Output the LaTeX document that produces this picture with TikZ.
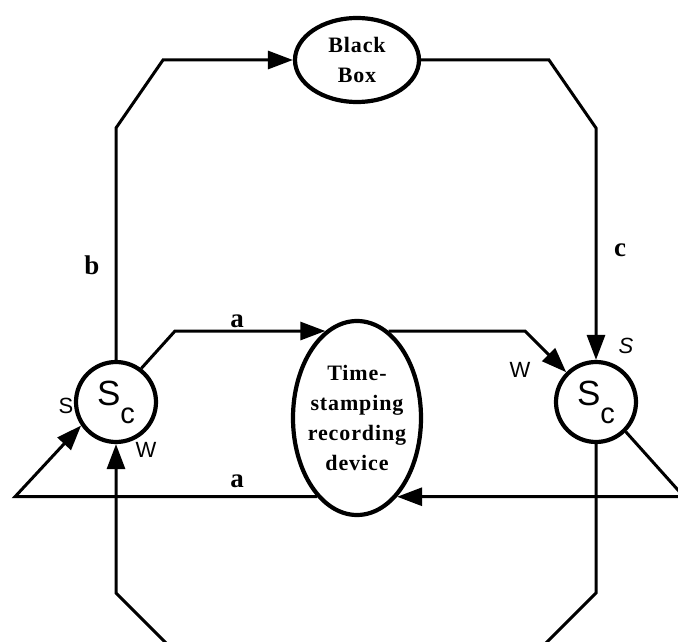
\documentclass[tikz,border=0pt]{standalone}
\usepackage{fontspec}
\setmainfont{Liberation Serif}
\setsansfont{Liberation Sans}
\usetikzlibrary{arrows.meta,shapes.geometric}

\newcommand{\swtext}{\sffamily\fontsize{35}{35}\selectfont S\raisebox{-18pt}{\fontsize{29}{29}\selectfont c}}

\begin{document}
\begin{tikzpicture}[
  x=1pt,y=-1pt,
  >={Triangle[length=25pt,width=18pt]},
  conn/.style={line width=3pt},
  blob/.style={ellipse,draw,line width=4.2pt,align=center,inner sep=-6pt,
               font=\fontsize{22}{30}\selectfont\bfseries\addfontfeatures{LetterSpace=4}},
  swnode/.style={circle,draw,line width=4.2pt,minimum size=80pt,inner sep=0pt},
  linklbl/.style={font=\fontsize{27}{27}\selectfont\bfseries},
  portlbl/.style={font=\fontsize{22}{22}\selectfont\sffamily},
]
\useasboundingbox (0,0) rectangle (678,642);
\clip (0,0) rectangle (678,642);

% blocks
\node[blob,minimum width=124pt,minimum height=84pt] (bbox) at (357,60) {Black\\Box};
\node[blob,minimum width=128pt,minimum height=194pt] (tsr) at (357,418)
   {Time-\\stamping\\recording\\device};
\node[swnode] (scl) at (116,402) {\swtext};
\node[swnode] (scr) at (596,402) {\swtext};

% corner points
\coordinate (bl1) at (116,128);
\coordinate (bl2) at (163,60);
\coordinate (br2) at (549,60);
\coordinate (br1) at (596,128);
\coordinate (ax) at (175,0);
\coordinate (al) at (tsr.110 -| ax);
\coordinate (wx) at (525,0);
\coordinate (wc) at (tsr.70 -| wx);
\coordinate (rx) at (684,0);
\coordinate (rr) at (tsr.-63 -| rx);
\coordinate (lx) at (15,0);
\coordinate (ll) at (tsr.-117 -| lx);
\coordinate (rb1) at (596,593);
\coordinate (rb2) at (539,650);
\coordinate (lb2) at (173,650);
\coordinate (lb1) at (116,593);

% connectors
\draw[conn,->] (scl.north) -- (bl1) -- (bl2) -- (bbox.west);
\draw[conn,->] (bbox.east) -- (br2) -- (br1) -- (scr.north);
\draw[conn,->] (scl.53) -- (al) -- (tsr.110);
\draw[conn,->] (tsr.70) -- (wc) -- (scr.135);
\draw[conn,->] (scr.-45) -- (rr) -- (tsr.-63);
\draw[conn,->] (tsr.-117) -- (ll) -- (scl.-146);
\draw[conn,->] (scr.south) -- (rb1) -- (rb2) -- (lb2) -- (lb1) -- (scl.south);

% labels
\node[linklbl] (lblb) at (92,265) {b};
\node[linklbl] (lblc) at (620,250) {c};
\node[linklbl] (lbla1) at (237,321) {a};
\node[linklbl] (lbla2) at (237,481) {a};
\node[portlbl] (lblS1) at (66,406) {S};
\node[portlbl] (lblW1) at (146,450) {W};
\node[portlbl] (lblW2) at (520,370) {W};
\node[portlbl,font=\fontsize{22}{22}\selectfont\sffamily\itshape] (lblS2) at (626,346) {S};
\end{tikzpicture}
\end{document}
